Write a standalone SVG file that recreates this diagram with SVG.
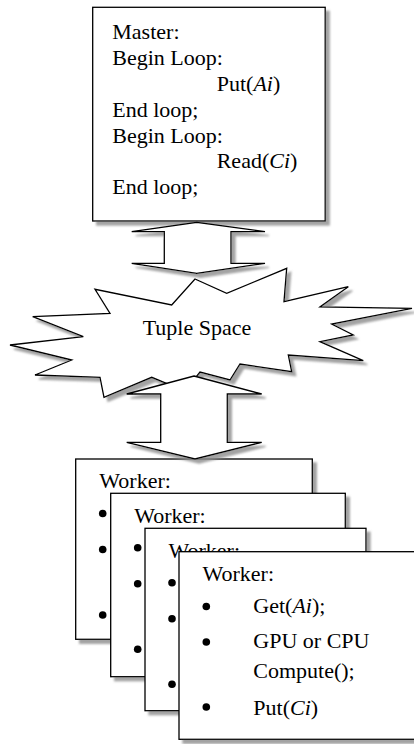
<svg xmlns="http://www.w3.org/2000/svg" width="414" height="744" viewBox="0 0 414 744">
  <defs>
    <filter id="shadow" x="-10%" y="-10%" width="130%" height="130%">
      <feGaussianBlur in="SourceAlpha" stdDeviation="1"/>
      <feOffset dx="4" dy="4" result="off"/>
      <feFlood flood-color="#8c8c8c" flood-opacity="0.8"/>
      <feComposite in2="off" operator="in" result="sh"/>
      <feMerge>
        <feMergeNode in="sh"/>
        <feMergeNode in="SourceGraphic"/>
      </feMerge>
    </filter>
    <g id="bullet"><circle r="3.8" fill="#000"/></g>
  </defs>
  <style>
    .box { fill: #fff; stroke: #000; stroke-width: 1.3; filter: url(#shadow); }
    .shape { fill: #fff; stroke: #000; stroke-width: 1.3; stroke-linejoin: miter; filter: url(#shadow); }
    .t { font-family: "Liberation Serif", "Times New Roman", serif; font-size: 22px; fill: #000; }
    .i { font-style: italic; }
  </style>

  <g id="master">
    <rect class="box" x="92.7" y="7.3" width="232.5" height="213.7"/>
    <text class="t" x="112.3" y="39.3">Master:</text>
    <text class="t" x="112.3" y="65">Begin Loop:</text>
    <text class="t" x="216.7" y="91">Put(<tspan class="i">Ai</tspan>)</text>
    <text class="t" x="112.3" y="116.7">End loop;</text>
    <text class="t" x="112.3" y="142.7">Begin Loop:</text>
    <text class="t" x="216.7" y="168.3">Read(<tspan class="i">Ci</tspan>)</text>
    <text class="t" x="112.3" y="194.3">End loop;</text>
  </g>

  <g id="tuple-space">
    <polygon class="shape" points="195,279 226.7,293.3 286.7,268.3 284,301.7 348.3,286.7 320,307 412,308.3 331.7,324 353.3,335 320,341.7 363.3,360.7 288.3,355 291.7,371.7 240,364 230,380 200,372 185,391 151.7,377.3 104,397.3 100,377.3 35,375 71.7,360 10,345 83.3,336.7 32.7,316.7 110,313.3 95,289.3 171.7,305"/>
    <text class="t" x="197" y="335" text-anchor="middle">Tuple Space</text>
  </g>

  <g id="worker1">
    <rect class="box" x="75.7" y="459" width="236.6" height="180.3"/>
    <text class="t" x="99.3" y="488.3">Worker:</text>
    <use href="#bullet" x="102.7" y="513.5"/>
    <use href="#bullet" x="102.7" y="549.5"/>
    <use href="#bullet" x="102.7" y="615"/>
  </g>

  <g id="worker2">
    <rect class="box" x="110.7" y="493.3" width="234.6" height="183.4"/>
    <text class="t" x="134.2" y="522.8">Worker:</text>
    <use href="#bullet" x="137.7" y="547.8"/>
    <use href="#bullet" x="137.7" y="583.8"/>
    <use href="#bullet" x="137.7" y="649.3"/>
  </g>

  <g id="worker3">
    <rect class="box" x="145" y="528.3" width="221" height="182.4"/>
    <text class="t" x="168.5" y="557.8">Worker:</text>
    <use href="#bullet" x="172" y="582.8"/>
    <use href="#bullet" x="172" y="618.8"/>
    <use href="#bullet" x="172" y="684.3"/>
  </g>

  <g id="worker4">
    <rect class="box" x="179" y="551.7" width="250" height="187.6"/>
    <text class="t" x="202.5" y="581.2">Worker:</text>
    <use href="#bullet" x="206.3" y="606.5"/>
    <use href="#bullet" x="206.3" y="642"/>
    <use href="#bullet" x="206.3" y="707"/>
    <text class="t" x="253.3" y="613.3">Get(<tspan class="i">Ai</tspan>);</text>
    <text class="t" x="253.3" y="648.3">GPU or CPU</text>
    <text class="t" x="253.3" y="678.3">Compute();</text>
    <text class="t" x="253.3" y="715">Put(<tspan class="i">Ci</tspan>)</text>
  </g>

  <g id="connectors">
    <polygon class="shape" points="196.7,222.3 265,231.7 231,231.7 231,263.3 265,263.3 196.7,273.3 131.7,263.3 164.3,263.3 164.3,231.7 131.7,231.7"/>
    <polygon class="shape" points="194,376 261.7,394 227.3,394 227.3,442.3 261.7,442.3 195,459 126.7,442.3 160.7,442.3 160.7,394 126.7,394"/>
  </g>
</svg>
